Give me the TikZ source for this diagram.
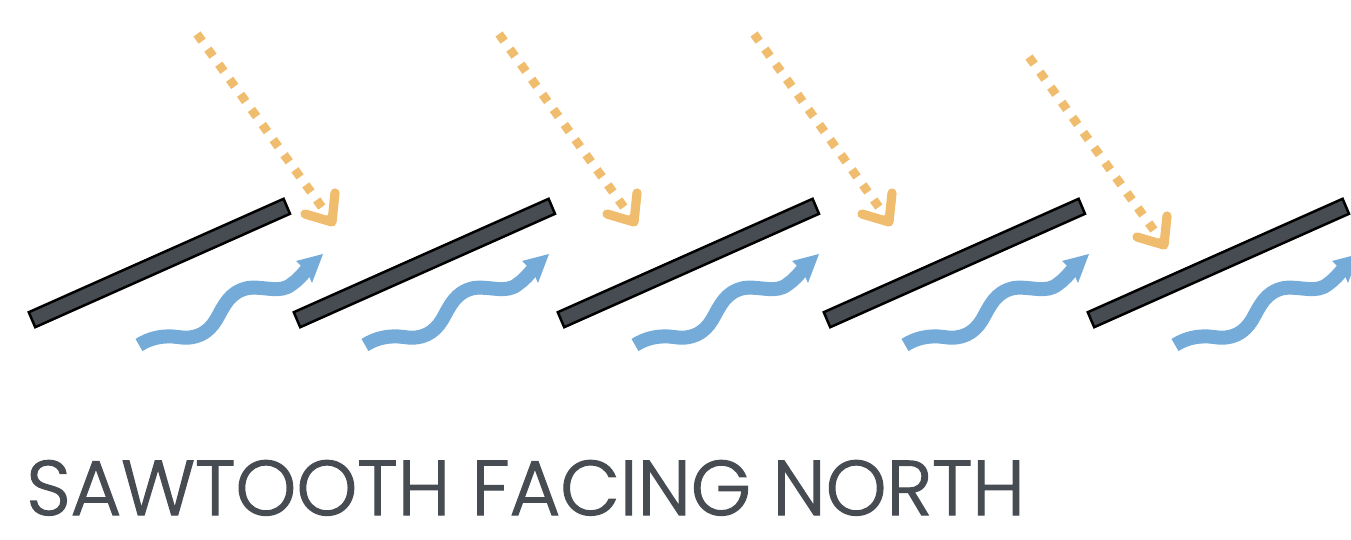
\documentclass[tikz,border=0pt]{standalone}
\usepackage{fontspec}
\setmainfont{Poppins Light}[FakeBold=1.6]
\definecolor{barc}{HTML}{474C52}
\definecolor{sunc}{HTML}{F0BC6E}
\definecolor{windc}{HTML}{74ABD8}
\tikzset{
  panel/.style={draw=black,fill=barc,line width=1.25pt,line join=miter},
  sunline/.style={draw=sunc,line width=4.4pt,dash pattern=on 4.4pt off 4.9pt},
  sunhead/.style={draw=sunc,line width=4.6pt,line cap=round,line join=round},
  windline/.style={draw=windc,line width=7pt},
  windhead/.style={fill=windc},
  titletext/.style={text=barc,inner sep=0pt,anchor=base west,font=\fontsize{38.72}{40}\selectfont}
}
\begin{document}
\begin{tikzpicture}[x=0.5pt,y=-0.5pt]
\useasboundingbox (0,0) rectangle (1351,540);
\clip (0,0) rectangle (1351,540);
\foreach \dx in {0,265,529,795,1059}{
  \draw[panel,shift={(\dx,0)}] (28.8,312.2) -- (283.6,198.8) -- (290,213.8) -- (35.2,327.2) -- cycle;
}
\foreach \dx/\dy/\tx in {197/34/335,499/34/637,754/34/892,1029/57/1167}{
  \begin{scope}[shift={(\tx-335,\dy-34)}]
    \coordinate (sunstart) at (197,34);
    \coordinate (suntip) at (329,217);
    \draw[sunline] (sunstart) -- (suntip);
    \draw[sunhead] (305,214) -- (332,222) -- (335,193);
  \end{scope}
}
\foreach \dx in {0,226,496,766,1036}{
  \begin{scope}[shift={(\dx,0)}]
    \coordinate (windstart) at (139,345);
    \coordinate (windend) at (308,268);
    \draw[windline] (windstart) .. controls (150,338) and (163,335) .. (178,337)
      .. controls (196,340) and (208,333) .. (216,320)
      .. controls (224,306) and (229,292) .. (248,288)
      .. controls (265,286) and (280,294) .. (292,284)
      .. controls (298,280) and (303,274) .. (windend);
    \fill[windhead] (323,254) -- (296,261) -- (303,268) -- (308,274) -- (312,283) -- cycle;
  \end{scope}
}
\node[titletext] (title) at (26,515) {SAWTOOTH FACING NORTH};
\end{tikzpicture}
\end{document}
